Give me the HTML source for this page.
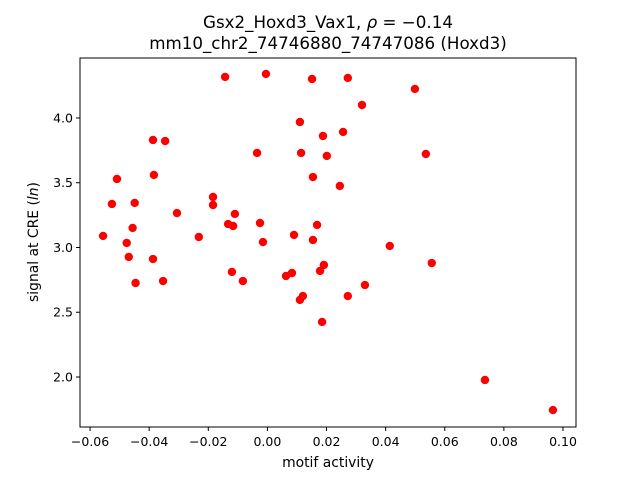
<!DOCTYPE html>
<html><head><meta charset="utf-8"><style>
body{margin:0;background:#fff;}
svg text{font-family:"DejaVu Sans","Liberation Sans",sans-serif;fill:#000;}
</style></head><body>
<svg id="chart" width="640" height="480" xmlns="http://www.w3.org/2000/svg">
<rect width="640" height="480" fill="#fff"/>
<text x="328" y="28" font-size="16.7" text-anchor="middle">Gsx2_Hoxd3_Vax1, <tspan font-style="italic">ρ</tspan> = −0.14</text>
<text x="328" y="49" font-size="16.7" text-anchor="middle">mm10_chr2_74746880_74747086 (Hoxd3)</text>
<g id="ticks"></g>
<g id="points"></g>
<rect x="80" y="58" width="496" height="369" fill="none" stroke="#000" stroke-width="1"/>
<text x="328" y="467" font-size="13.9" text-anchor="middle">motif activity</text>
<text transform="translate(38,242) rotate(-90)" font-size="13.9" text-anchor="middle">signal at CRE (<tspan font-style="italic">ln</tspan>)</text>
</svg>
<script>
const xVals=[-0.0556,-0.0526,-0.0509,-0.0476,-0.0469,-0.0456,-0.0449,-0.0446,-0.0387,-0.0384,-0.0387,-0.0353,-0.0346,-0.0306,-0.0232,-0.0184,-0.0184,-0.0143,-0.0133,-0.0116,-0.0110,-0.0120,-0.0083,-0.0035,-0.0025,-0.0015,-0.0005,0.0063,0.0083,0.0090,0.0110,0.0114,0.0120,0.0110,0.0151,0.0154,0.0154,0.0168,0.0178,0.0188,0.0191,0.0185,0.0201,0.0245,0.0256,0.0272,0.0272,0.0320,0.0330,0.0414,0.0499,0.0536,0.0556,0.0736,0.0966];
const yVals=[3.089,3.336,3.529,3.035,2.927,3.151,3.344,2.726,3.830,3.560,2.911,2.741,3.822,3.266,3.081,3.390,3.328,4.317,3.181,3.166,3.259,2.811,2.741,3.730,3.189,3.042,4.340,2.780,2.803,3.097,3.969,3.730,2.625,2.595,4.301,3.544,3.058,3.174,2.819,3.861,2.865,2.425,3.707,3.475,3.892,4.309,2.625,4.100,2.710,3.012,4.224,3.722,2.880,1.977,1.745];
const xTicks=[-0.06,-0.04,-0.02,0.00,0.02,0.04,0.06,0.08,0.10];
const xTickLabels=["−0.06","−0.04","−0.02","0.00","0.02","0.04","0.06","0.08","0.10"];
const yTicks=[2.0,2.5,3.0,3.5,4.0];
const yTickLabels=["2.0","2.5","3.0","3.5","4.0"];
const xMin=-0.0634,xMax=0.1044,yMin=1.614,yMax=4.463;
const L=80,R=576,T=58,B=427;
const sx=v=>L+(v-xMin)/(xMax-xMin)*(R-L);
const sy=v=>B-(v-yMin)/(yMax-yMin)*(B-T);
const NS="http://www.w3.org/2000/svg";
const tg=document.getElementById('ticks'),pg=document.getElementById('points');
xTicks.forEach((t,i)=>{
 const x=sx(t);
 const l=document.createElementNS(NS,'line');
 l.setAttribute('x1',x);l.setAttribute('x2',x);l.setAttribute('y1',B);l.setAttribute('y2',B+4);l.setAttribute('stroke','#000');
 
 
 tg.appendChild(l);
 const tx=document.createElementNS(NS,'text');
 tx.setAttribute('x',x);tx.setAttribute('y',B+19);tx.setAttribute('font-size','12.5');tx.setAttribute('text-anchor','middle');
 tx.textContent=xTickLabels[i];
 
 
 tg.appendChild(tx);
});
yTicks.forEach((t,i)=>{
 const y=sy(t);
 const l=document.createElementNS(NS,'line');
 l.setAttribute('x1',L-4);l.setAttribute('x2',L);l.setAttribute('y1',y);l.setAttribute('y2',y);l.setAttribute('stroke','#000');
 
 
 tg.appendChild(l);
 const tx=document.createElementNS(NS,'text');
 tx.setAttribute('x',L-7);tx.setAttribute('y',y+4.5);tx.setAttribute('font-size','12.5');tx.setAttribute('text-anchor','end');
 tx.textContent=yTickLabels[i];
 
 
 tg.appendChild(tx);
});
xVals.forEach((v,i)=>{
 const c=document.createElementNS(NS,'circle');
 c.setAttribute('cx',sx(v));c.setAttribute('cy',sy(yVals[i]));c.setAttribute('r','4.2');c.setAttribute('fill','#ff0000');
 
 
 pg.appendChild(c);
});
</script>
</body></html>
